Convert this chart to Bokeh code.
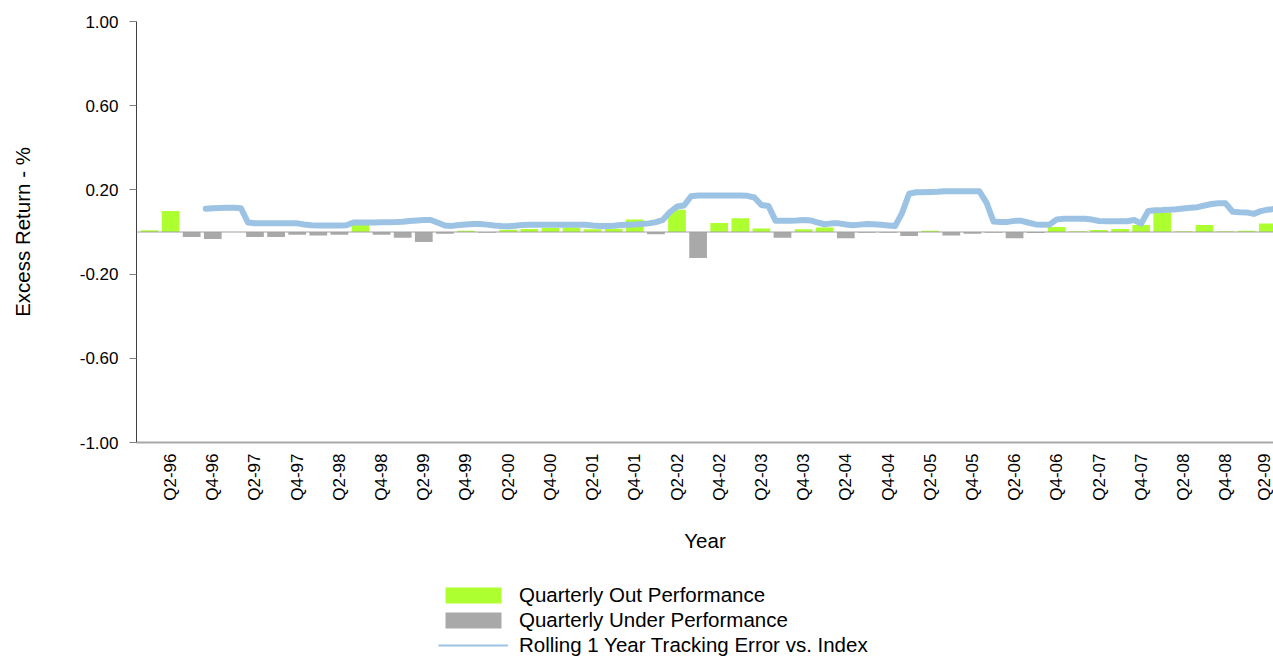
import math
from bokeh.plotting import figure
from bokeh.layouts import column
from bokeh.models import (ColumnDataSource, Range1d, FixedTicker, NumeralTickFormatter,
                          Legend, LegendItem, Span)
from bokeh.embed import file_html
from bokeh.resources import INLINE

# ---------------- data ----------------
quarters = [f"Q{q}-{y % 100:02d}" for y in range(1996, 2010) for q in (1, 2, 3, 4)][:54]

excess_return = [0.008, 0.100, -0.024, -0.033, 0.000, -0.024, -0.024, -0.013, -0.017, -0.013,
                 0.035, -0.013, -0.027, -0.048, -0.008, 0.006, -0.003, 0.011, 0.014, 0.019,
                 0.021, 0.013, 0.016, 0.059, -0.011, 0.106, -0.124, 0.043, 0.065, 0.017,
                 -0.027, 0.013, 0.021, -0.030, -0.003, -0.003, -0.019, 0.006, -0.017, -0.008,
                 -0.003, -0.030, -0.005, 0.024, 0.003, 0.010, 0.014, 0.033, 0.093, 0.003,
                 0.033, 0.003, 0.006, 0.040]

# rolling 1-year tracking error, monthly, starting Oct-96 (month index 9 from Jan-96)
te_start_month = 9
tracking_error = [0.110, 0.113, 0.114, 0.115, 0.115, 0.113, 0.045, 0.042, 0.042, 0.042,
                  0.042, 0.042, 0.042, 0.041, 0.036, 0.032, 0.031, 0.031, 0.031, 0.031,
                  0.032, 0.045, 0.045, 0.045, 0.045, 0.046, 0.046, 0.047, 0.049, 0.052,
                  0.055, 0.057, 0.057, 0.044, 0.031, 0.029, 0.033, 0.036, 0.038, 0.038,
                  0.035, 0.031, 0.028, 0.027, 0.030, 0.033, 0.034, 0.035, 0.035, 0.035,
                  0.035, 0.035, 0.035, 0.035, 0.034, 0.031, 0.029, 0.028, 0.030, 0.033,
                  0.035, 0.036, 0.038, 0.041, 0.047, 0.058, 0.095, 0.121, 0.126, 0.170,
                  0.173, 0.173, 0.173, 0.173, 0.173, 0.173, 0.173, 0.172, 0.164, 0.128,
                  0.124, 0.054, 0.053, 0.054, 0.055, 0.057, 0.055, 0.045, 0.037, 0.041,
                  0.041, 0.036, 0.032, 0.035, 0.038, 0.037, 0.034, 0.031, 0.028, 0.090,
                  0.182, 0.189, 0.189, 0.190, 0.191, 0.194, 0.194, 0.194, 0.194, 0.194,
                  0.193, 0.140, 0.050, 0.047, 0.048, 0.053, 0.053, 0.044, 0.036, 0.035,
                  0.036, 0.060, 0.063, 0.063, 0.063, 0.063, 0.059, 0.052, 0.051, 0.051,
                  0.051, 0.051, 0.057, 0.040, 0.100, 0.103, 0.104, 0.106, 0.108, 0.112,
                  0.115, 0.118, 0.126, 0.133, 0.137, 0.136, 0.096, 0.094, 0.093, 0.086,
                  0.099, 0.106, 0.110]

y_ticks = [-1.0, -0.6, -0.2, 0.2, 0.6, 1.0]

series_names = ["Quarterly Out Performance", "Quarterly Under Performance",
                "Rolling 1 Year Tracking Error vs. Index"]

GREEN = "#adff2f"
GREY = "#a9a9a9"
BLUE = "#9cc3e4"
FONT = "Liberation Sans"

# ---------------- sources ----------------
qx = list(range(len(quarters)))
pos_src = ColumnDataSource(dict(x=[x for x, v in zip(qx, excess_return) if v >= 0],
                                top=[v for v in excess_return if v >= 0]))
neg_src = ColumnDataSource(dict(x=[x for x, v in zip(qx, excess_return) if v < 0],
                                top=[v for v in excess_return if v < 0]))
te_x = [(te_start_month + i - 1) / 3.0 for i in range(len(tracking_error))]
te_src = ColumnDataSource(dict(x=te_x, y=tracking_error))

# ---------------- main plot ----------------
p = figure(width=1273, height=570, output_backend="svg", toolbar_location=None,
           x_range=Range1d(-0.616, 53.27), y_range=Range1d(-1.0, 1.0),
           min_border_left=136, min_border_right=0, min_border_top=21, min_border_bottom=128)
p.outline_line_color = None
p.grid.visible = False
p.background_fill_color = "white"

p.add_layout(Span(location=0, dimension="width", line_color="#a0a0a0", line_width=1))

p.vbar(x="x", top="top", bottom=0, width=0.84, source=pos_src, fill_color=GREEN, line_color=None)
p.vbar(x="x", top="top", bottom=0, width=0.84, source=neg_src, fill_color=GREY, line_color=None)
p.line(x="x", y="y", source=te_src, line_color=BLUE, line_width=6,
       line_join="round", line_cap="round")

ya = p.yaxis[0]
ya.ticker = FixedTicker(ticks=y_ticks)
ya.formatter = NumeralTickFormatter(format="0.00")
ya.major_label_text_font = FONT
ya.major_label_text_font_size = "17px"
ya.major_label_text_color = "black"
ya.major_tick_out = 7
ya.major_tick_in = 0
ya.minor_tick_out = 0
ya.minor_tick_in = 0
ya.major_tick_line_color = "#808080"
ya.axis_line_color = "#404040"
ya.major_label_standoff = 11
ya.axis_label = "Excess Return - %"
ya.axis_label_text_font = FONT
ya.axis_label_text_font_size = "20.5px"
ya.axis_label_text_font_style = "normal"
ya.axis_label_text_color = "black"
ya.axis_label_standoff = 43

xa = p.xaxis[0]
xa.ticker = FixedTicker(ticks=[k for k in qx if quarters[k][1] in "24"])
xa.major_label_overrides = {k: quarters[k] for k in qx}
xa.major_label_orientation = math.pi / 2
xa.major_label_text_font = FONT
xa.major_label_text_font_size = "17px"
xa.major_label_text_color = "black"
xa.major_tick_out = 0
xa.major_tick_in = 0
xa.minor_tick_out = 0
xa.minor_tick_in = 0
xa.major_label_standoff = 11
xa.axis_line_color = "#a8a8a8"
xa.axis_line_width = 2
xa.axis_label = "Year"
xa.axis_label_text_font = FONT
xa.axis_label_text_font_size = "20.5px"
xa.axis_label_text_font_style = "normal"
xa.axis_label_text_color = "black"
xa.axis_label_standoff = 25

# ---------------- legend strip ----------------
lg = figure(width=1273, height=86, output_backend="svg", toolbar_location=None,
            x_range=Range1d(0, 1), y_range=Range1d(0, 1),
            x_axis_location=None, y_axis_location=None,
            min_border=0, min_border_left=0, min_border_right=0,
            min_border_top=0, min_border_bottom=0)
lg.outline_line_color = None
lg.grid.visible = False
nan = float("nan")
lr1 = lg.vbar(x=[nan], top=[nan], bottom=0, width=0.5, fill_color=GREEN, line_color=None)
lr2 = lg.vbar(x=[nan], top=[nan], bottom=0, width=0.5, fill_color=GREY, line_color=None)
lr3 = lg.line(x=[nan], y=[nan], line_color=BLUE, line_width=2)

legend = Legend(items=[LegendItem(label=series_names[0], renderers=[lr1]),
                       LegendItem(label=series_names[1], renderers=[lr2]),
                       LegendItem(label=series_names[2], renderers=[lr3])],
                location=(302, -1), orientation="vertical",
                glyph_width=70, glyph_height=20, label_standoff=11, spacing=1, padding=3,
                label_text_font=FONT, label_text_font_size="20.5px", label_text_color="black",
                border_line_color=None, background_fill_alpha=0)
lg.add_layout(legend)

layout = column(p, lg, spacing=0)
open("out.html", "w").write(file_html(layout, INLINE))
